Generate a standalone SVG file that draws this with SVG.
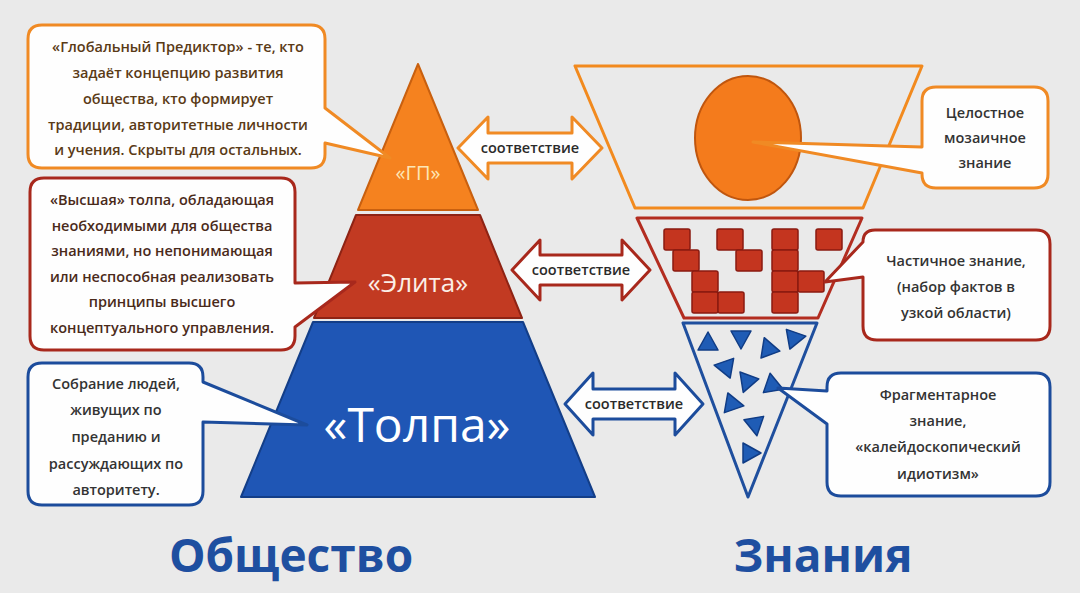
<svg xmlns="http://www.w3.org/2000/svg" xmlns:xlink="http://www.w3.org/1999/xlink" width="1080" height="593" viewBox="0 0 1080 593">
<defs>
<style>
.t{font-family:"Open Sans","Liberation Sans",sans-serif;text-anchor:middle}
.cb{font-size:14.5px;font-weight:600;fill:#333}
.co{fill:#fefefe;stroke:#f08a24;stroke-width:3;stroke-linejoin:round}
.cr{fill:#fefefe;stroke:#a8281c;stroke-width:3;stroke-linejoin:round}
.cbl{fill:#fefefe;stroke:#1c4c9c;stroke-width:3;stroke-linejoin:round}
.sq{fill:#c4351f;stroke:#8a1a10;stroke-width:1.5}
.tr{fill:#1f5cb5;stroke:#103c85;stroke-width:1.5;stroke-linejoin:round}
.ar{font-size:14.5px;font-weight:600;fill:#2a2a2a}
.title{font-family:"Open Sans","Liberation Sans",sans-serif;font-weight:bold;font-size:46px;fill:#1e4fa0;text-anchor:middle}
</style>
<path id="tri" d="M0,-11 L10,7 L-10,7 Z"/>
<rect id="sq" width="26" height="21" rx="2"/>
</defs>
<rect width="1080" height="593" fill="#eaeaea"/>

<!-- Pyramid -->
<g id="gp">
<polygon points="418,64 358,210 478,210" fill="#f5821f" stroke="#c9600f" stroke-width="2" stroke-linejoin="round"/>
<text class="t" x="418" y="180" font-size="20" fill="#fde6b5">«ГП»</text>
</g>
<g id="elita">
<polygon points="356,215 480,215 522,318 314,318" fill="#c23a22" stroke="#8e2314" stroke-width="2" stroke-linejoin="round"/>
<text class="t" x="418" y="292" font-size="26" fill="#fbeee6">«Элита»</text>
</g>
<g id="tolpa">
<polygon points="313,322 523,322 595,497 241,497" fill="#1f56b5" stroke="#133e88" stroke-width="2" stroke-linejoin="round"/>
<text class="t" x="417" y="442" font-size="48" fill="#ffffff">«Толпа»</text>
</g>

<!-- Funnel -->
<g id="whole">
<polygon points="575,66 922,66 863,208 635,208" fill="none" stroke="#f28a1e" stroke-width="3" stroke-linejoin="round"/>
<ellipse cx="748" cy="138" rx="53" ry="62" fill="#f47b1c" stroke="#c0560e" stroke-width="2"/>
</g>
<g id="partial">
<polygon points="637,218 862,218 818,318 684,318" fill="none" stroke="#b32d20" stroke-width="3" stroke-linejoin="round"/>
<use xlink:href="#sq" class="sq" x="664" y="229"/>
<use xlink:href="#sq" class="sq" x="673" y="250"/>
<use xlink:href="#sq" class="sq" x="692" y="271"/>
<use xlink:href="#sq" class="sq" x="692" y="292"/>
<use xlink:href="#sq" class="sq" x="718" y="292"/>
<use xlink:href="#sq" class="sq" x="717" y="229"/>
<use xlink:href="#sq" class="sq" x="736" y="250"/>
<use xlink:href="#sq" class="sq" x="772" y="229"/>
<use xlink:href="#sq" class="sq" x="772" y="250"/>
<use xlink:href="#sq" class="sq" x="772" y="271"/>
<use xlink:href="#sq" class="sq" x="772" y="292"/>
<use xlink:href="#sq" class="sq" x="798" y="271"/>
<use xlink:href="#sq" class="sq" x="816" y="229"/>
</g>
<g id="fragment">
<polygon points="683,323 817,323 748,497" fill="none" stroke="#1f4f9e" stroke-width="3" stroke-linejoin="round"/>
<use xlink:href="#tri" class="tr" transform="translate(708,343)"/>
<use xlink:href="#tri" class="tr" transform="translate(741,338) rotate(180)"/>
<use xlink:href="#tri" class="tr" transform="translate(768,348) rotate(-20)"/>
<use xlink:href="#tri" class="tr" transform="translate(795,338) rotate(80)"/>
<use xlink:href="#tri" class="tr" transform="translate(725,367) rotate(-80)"/>
<use xlink:href="#tri" class="tr" transform="translate(747,382) rotate(200)"/>
<use xlink:href="#tri" class="tr" transform="translate(772,384) rotate(-10)"/>
<use xlink:href="#tri" class="tr" transform="translate(733,404) rotate(100)"/>
<use xlink:href="#tri" class="tr" transform="translate(755,425) rotate(170)"/>
<use xlink:href="#tri" class="tr" transform="translate(750,453) rotate(90)"/>
</g>

<!-- Connectors -->
<g id="connectors">
<g id="arrow-gp">
<polygon class="co" points="458,148 488,117 488,133 572,133 572,117 602,148 572,179 572,163 488,163 488,179"/>
<text class="t ar" x="530" y="153">соответствие</text>
</g>
<g id="arrow-elita">
<polygon class="cr" points="512,270 540,240 540,255 622,255 622,240 650,270 622,300 622,285 540,285 540,300"/>
<text class="t ar" x="581" y="275">соответствие</text>
</g>
<g id="arrow-tolpa">
<polygon class="cbl" points="565,404 593,373 593,389 675,389 675,373 703,404 675,435 675,419 593,419 593,435"/>
<text class="t ar" x="634" y="409">соответствие</text>
</g>
</g>

<!-- Callouts left -->
<g id="callout-gp">
<path class="co" d="M42,25 H311 Q325,25 325,39 V108 L390,158 L325,143 V154 Q325,168 311,168 H42 Q28,168 28,154 V39 Q28,25 42,25 Z"/>
<g class="t cb" style="fill:#5a3a16">
<text x="178" y="52">«Глобальный Предиктор» -  те, кто</text>
<text x="178" y="78">задаёт концепцию развития</text>
<text x="178" y="104">общества, кто формирует</text>
<text x="178" y="130">традиции, авторитетные личности</text>
<text x="178" y="155">и учения. Скрыты для остальных.</text>
</g>
</g>
<g id="callout-elita">
<path class="cr" d="M44,178 H281 Q295,178 295,192 V283 L355,282 L295,327 V336 Q295,350 281,350 H44 Q30,350 30,336 V192 Q30,178 44,178 Z"/>
<g class="t cb" style="fill:#4a2a1a">
<text x="162" y="205">«Высшая» толпа, обладающая</text>
<text x="162" y="231">необходимыми для общества</text>
<text x="162" y="256">знаниями, но непонимающая</text>
<text x="162" y="282">или неспособная реализовать</text>
<text x="162" y="307">принципы высшего</text>
<text x="162" y="333">концептуального управления.</text>
</g>
</g>
<g id="callout-tolpa">
<path class="cbl" d="M42,363 H189 Q203,363 203,377 V382 L307,425 L203,422 V491 Q203,505 189,505 H42 Q28,505 28,491 V377 Q28,363 42,363 Z"/>
<g class="t cb">
<text x="116" y="389">Собрание людей,</text>
<text x="116" y="415">живущих по</text>
<text x="116" y="442">преданию и</text>
<text x="116" y="469">рассуждающих по</text>
<text x="116" y="495">авторитету.</text>
</g>
</g>

<!-- Callouts right -->
<g id="callout-whole">
<path class="co" d="M936,87 H1034 Q1048,87 1048,101 V174 Q1048,188 1034,188 H936 Q922,188 922,174 V173 L753,142 L922,147 V101 Q922,87 936,87 Z"/>
<g class="t cb">
<text x="985" y="118">Целостное</text>
<text x="985" y="143">мозаичное</text>
<text x="985" y="168">знание</text>
</g>
</g>
<g id="callout-partial">
<path class="cr" d="M875,230 H1036 Q1050,230 1050,244 V326 Q1050,340 1036,340 H877 Q863,340 863,326 V277 L825,282 L863,242 Q863,230 875,230 Z"/>
<g class="t cb">
<text x="956" y="266">Частичное знание,</text>
<text x="956" y="292">(набор фактов в</text>
<text x="956" y="318">узкой области)</text>
</g>
</g>
<g id="callout-fragment">
<path class="cbl" d="M841,373 H1036 Q1050,373 1050,387 V482 Q1050,496 1036,496 H841 Q827,496 827,482 V424 L778,388 L827,391 V387 Q827,373 841,373 Z"/>
<g class="t cb">
<text x="938" y="400">Фрагментарное</text>
<text x="938" y="426">знание,</text>
<text x="938" y="452">«калейдоскопический</text>
<text x="938" y="479">идиотизм»</text>
</g>
</g>

<!-- Titles -->
<text class="title" x="291" y="572">Общество</text>
<text class="title" x="823" y="572">Знания</text>
</svg>
